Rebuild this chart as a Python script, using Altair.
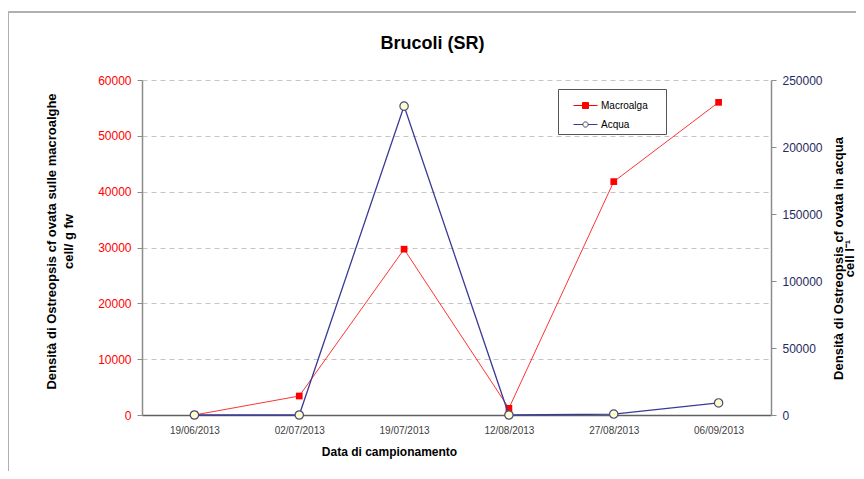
import altair as alt
import pandas as pd

dates = ["19/06/2013", "02/07/2013", "19/07/2013", "12/08/2013", "27/08/2013", "06/09/2013"]
macroalga = [0, 3400, 29700, 1200, 41800, 56000]
acqua = [0, 0, 230500, 0, 700, 9000]
series = ["Macroalga", "Acqua"]

df_m = pd.DataFrame({"data": dates, "val": macroalga})
df_a = pd.DataFrame({"data": dates, "val": acqua})

FONT = "Liberation Sans"
RED = "#FF0000"
NAVY = "#3A3A96"
AXGREY = "#8C8C8C"

xenc = alt.X(
    "data:N", sort=dates,
    scale=alt.Scale(type="point", padding=0.5),
    axis=alt.Axis(
        title="Data di campionamento", titleFont=FONT, titleFontSize=12,
        titleFontWeight="bold", titleColor="#000000", titlePadding=11,
        titleX=247, titleAlign="center",
        labelFont=FONT, labelFontSize=10, labelColor="#404040", labelPadding=10,
        labelAngle=0, ticks=False, domainColor="#606060", domainWidth=1.5,
        grid=False,
    ),
)

y_left = alt.Y(
    "val:Q",
    scale=alt.Scale(domain=[0, 60000], nice=False),
    axis=alt.Axis(
        orient="left", values=list(range(0, 60001, 10000)), format="d",
        title=["Densità di Ostreopsis  cf ovata sulle macroalghe", "cell/ g fw"],
        titleFont=FONT, titleFontSize=13, titleFontWeight="bold",
        titleColor="#000000", titlePadding=22, titleLineHeight=17,
        titleY=161,
        labelFont=FONT, labelFontSize=12, labelColor="#FF0000", labelPadding=6,
        tickSize=5, tickColor=AXGREY, domainColor=AXGREY, domainWidth=1.5,
        grid=True, gridColor="#C4C4C4", gridDash=[5, 4], gridWidth=1,
    ),
)

y_right = alt.Y(
    "val:Q",
    scale=alt.Scale(domain=[0, 250000], nice=False),
    axis=alt.Axis(
        orient="right", values=list(range(0, 250001, 50000)), format="d",
        title=["Densità di Ostreopsis cf ovata in acqua", "cell l⁻¹"],
        titleFont=FONT, titleFontSize=13, titleFontWeight="bold",
        titleColor="#000000", titlePadding=12, titleLineHeight=11,
        titleAngle=-90, titleY=178,
        labelFont=FONT, labelFontSize=12, labelColor="#1F2A5E", labelPadding=6,
        tickSize=5, tickColor=AXGREY, domainColor=AXGREY, domainWidth=1.5,
        grid=False,
    ),
)

# legend symbols: line with marker
path_sq = "M-1,0H1M-0.25,-0.25H0.25V0.25H-0.25Z"
path_ci = "M-1,0H-0.22M0.22,0H1M0.22,0A0.22,0.22 0 1,1 -0.22,0A0.22,0.22 0 1,1 0.22,0Z"

LBL = "datum.label + '\u2800\u2800'"
legend_df = pd.DataFrame({"serie": series})
legend_layer = alt.Chart(legend_df).transform_filter("false").mark_point(
    filled=False, opacity=1
).encode(
    shape=alt.Shape("serie:N", scale=alt.Scale(domain=series, range=[path_sq, path_ci]),
                    legend=alt.Legend(title=None, labelExpr=LBL)),
    stroke=alt.Stroke("serie:N", scale=alt.Scale(domain=series, range=[RED, NAVY]),
                      legend=alt.Legend(title=None, labelExpr=LBL)),
    fill=alt.Fill("serie:N", scale=alt.Scale(domain=series, range=[RED, "#FFFFCC"]),
                  legend=alt.Legend(title=None, labelExpr=LBL)),
)

macro_line = alt.Chart(df_m).mark_line(color=RED, strokeWidth=1, opacity=0.8).encode(x=xenc, y=y_left)
macro_pts = alt.Chart(df_m).mark_point(shape="square", filled=True, color=RED, size=45, opacity=1).encode(x=xenc, y=y_left)
macro = alt.layer(macro_line, macro_pts, legend_layer)

acq_line = alt.Chart(df_a).mark_line(color=NAVY, strokeWidth=1.3).encode(x=xenc, y=y_right)
acq_pts = alt.Chart(df_a).mark_point(shape="circle", filled=True, fill="#FFFFCC",
                                     stroke="#4A4A7A", strokeWidth=1.2, size=70, opacity=1).encode(x=xenc, y=y_right)
acq = alt.layer(acq_line, acq_pts)

frame_data = alt.Data(values=[{}])
frame_left = alt.Chart(frame_data).mark_rule(color="#B0B0B0", strokeWidth=2).encode(
    x=alt.value(-134), y=alt.value(-68), y2=alt.value(420))
frame_top = alt.Chart(frame_data).mark_rule(color="#B0B0B0", strokeWidth=2).encode(
    x=alt.value(-134), x2=alt.value(720), y=alt.value(-68))

chart = alt.layer(macro, acq).resolve_scale(y="independent")
chart = alt.layer(frame_left, frame_top, chart).properties(
    width=629, height=335,
    title=alt.TitleParams("Brucoli (SR)", font=FONT, fontSize=18, fontWeight="bold",
                          color="#000000", anchor="middle", dx=-24, offset=-42,
                          frame="group"),
    autosize=alt.AutoSizeParams(type="none"),
    padding={"left": 134, "top": 72, "right": 85, "bottom": 56},
).configure_view(stroke=None).configure_legend(
    orient="none", legendX=416, legendY=9, strokeColor="#555555", fillColor="#FFFFFF",
    padding=4, rowPadding=1, symbolSize=576, symbolStrokeWidth=1, symbolOffset=11,
    labelFont=FONT, labelFontSize=10, labelColor="#000000", labelOffset=3,
    symbolOpacity=1,
)

chart.save("out.html", embed_options={"renderer": "svg", "actions": False})
